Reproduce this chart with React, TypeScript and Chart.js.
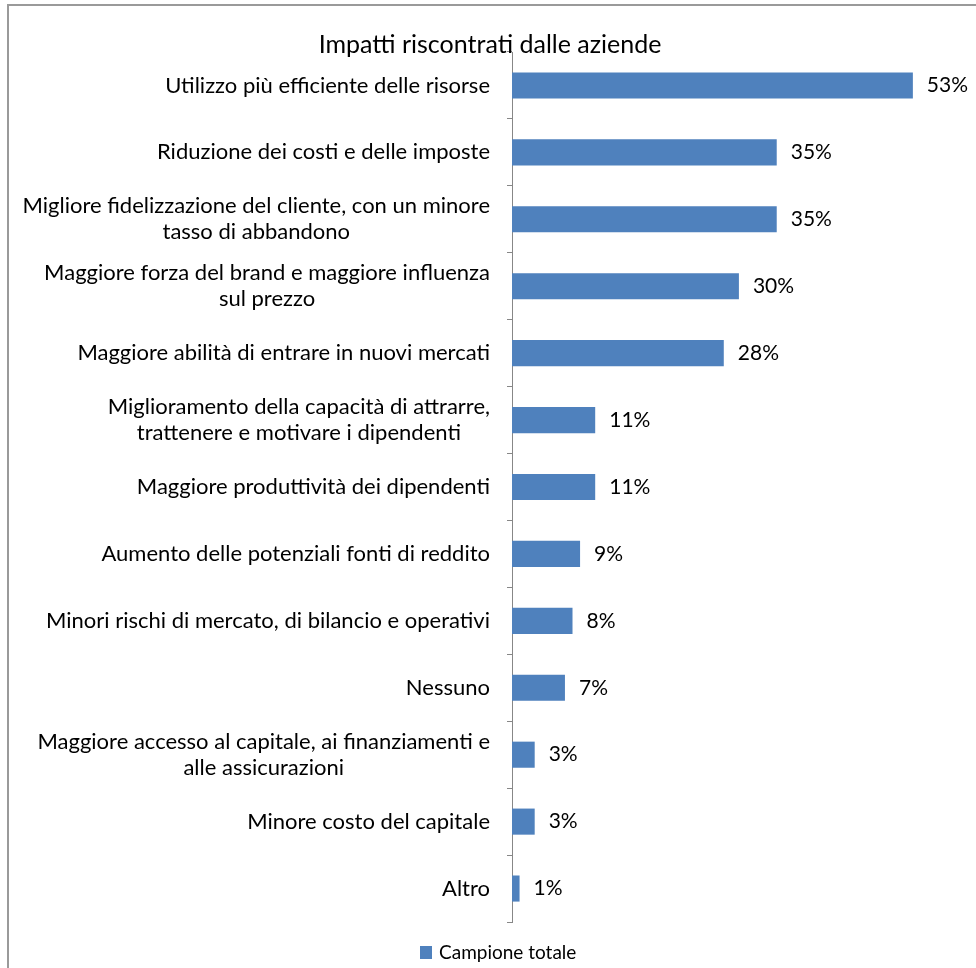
import React, { useEffect, useRef } from "react";
import { Chart, registerables } from "chart.js";

Chart.register(...registerables);

const TITLE = "Impatti riscontrati dalle aziende";
const SERIES_NAME = "Campione totale";

const categories: string[][] = [
  ["Utilizzo più efficiente delle risorse"],
  ["Riduzione dei costi e delle imposte"],
  ["Migliore fidelizzazione del cliente, con un minore", "tasso di abbandono"],
  ["Maggiore forza del brand e maggiore influenza", "sul prezzo"],
  ["Maggiore abilità di entrare in nuovi mercati"],
  ["Miglioramento della capacità di attrarre,", "trattenere e motivare i dipendenti"],
  ["Maggiore produttività dei dipendenti"],
  ["Aumento delle potenziali fonti di reddito"],
  ["Minori rischi di mercato, di bilancio e operativi"],
  ["Nessuno"],
  ["Maggiore accesso al capitale, ai finanziamenti e", "alle assicurazioni"],
  ["Minore costo del capitale"],
  ["Altro"],
];

const values: number[] = [53, 35, 35, 30, 28, 11, 11, 9, 8, 7, 3, 3, 1];

const FONT = "Lato, 'Open Sans', sans-serif";
const BAR_COLOR = "#4F81BD";
const AXIS_COLOR = "#878787";

const decorPlugin = {
  id: "decor",
  beforeDraw(chart: any) {
    const ctx = chart.ctx;
    ctx.save();
    ctx.fillStyle = "#ffffff";
    ctx.fillRect(0, 0, chart.width, chart.height);
    ctx.strokeStyle = "#9a9a9a";
    ctx.lineWidth = 2;
    ctx.strokeRect(8, 5, chart.width + 20, chart.height + 20);
    ctx.restore();
  },
  afterDraw(chart: any) {
    const ctx = chart.ctx;
    const xs = chart.scales.x;
    const ys = chart.scales.y;
    const area = chart.chartArea;
    ctx.save();
    // title
    ctx.fillStyle = "#000";
    ctx.font = `25px ${FONT}`;
    ctx.textAlign = "center";
    ctx.textBaseline = "middle";
    ctx.fillText(TITLE, 490, 45);
    // category labels (block right-aligned, lines centered)
    ctx.font = `22px ${FONT}`;
    const lineH = 26;
    categories.forEach((lines, i) => {
      const cy = ys.getPixelForValue(i);
      const w = Math.max(...lines.map((l) => ctx.measureText(l).width));
      const right = area.left - 22;
      const cx = right - w / 2;
      const y0 = cy - ((lines.length - 1) * lineH) / 2;
      lines.forEach((l, k) => {
        ctx.fillText(l, cx, y0 + k * lineH);
      });
    });
    // value labels
    ctx.textAlign = "left";
    ctx.font = `21px ${FONT}`;
    values.forEach((v, i) => {
      const px = xs.getPixelForValue(v);
      const py = ys.getPixelForValue(i);
      ctx.fillText(v + "%", px + 14, py);
    });
    // legend
    const ds = chart.data.datasets[0];
    ctx.fillStyle = ds.backgroundColor;
    ctx.fillRect(420, 946, 12, 13);
    ctx.fillStyle = "#000";
    ctx.font = `19px ${FONT}`;
    ctx.fillText(ds.label, 439, 953);
    ctx.restore();
  },
};

export default function App() {
  const ref = useRef<HTMLCanvasElement | null>(null);
  useEffect(() => {
    if (!ref.current) return;
    const chart = new Chart(ref.current, {
      type: "bar",
      data: {
        labels: categories.map((c) => c.join(" ")),
        datasets: [
          {
            label: SERIES_NAME,
            data: values,
            backgroundColor: BAR_COLOR,
            borderWidth: 0,
            categoryPercentage: 1,
            barPercentage: 0.39,
          },
        ],
      },
      options: {
        indexAxis: "y",
        responsive: false,
        animation: false,
        layout: { padding: { left: 507, right: 48, top: 52, bottom: 46 } },
        scales: {
          x: { display: false, min: 0, max: 55 },
          y: {
            grid: {
              display: true,
              drawOnChartArea: false,
              drawTicks: true,
              tickLength: 5,
              color: AXIS_COLOR,
              offset: true,
            },
            border: { display: true, color: AXIS_COLOR, width: 1 },
            ticks: { display: false },
          },
        },
        plugins: {
          legend: { display: false },
          tooltip: { enabled: false },
          title: { display: false },
        },
      },
      plugins: [decorPlugin],
    });
    return () => chart.destroy();
  }, []);
  return (
    <div style={{ position: "fixed", left: 0, top: 0, width: 976, height: 968 }}>
      <canvas ref={ref} width={976} height={968} />
    </div>
  );
}
